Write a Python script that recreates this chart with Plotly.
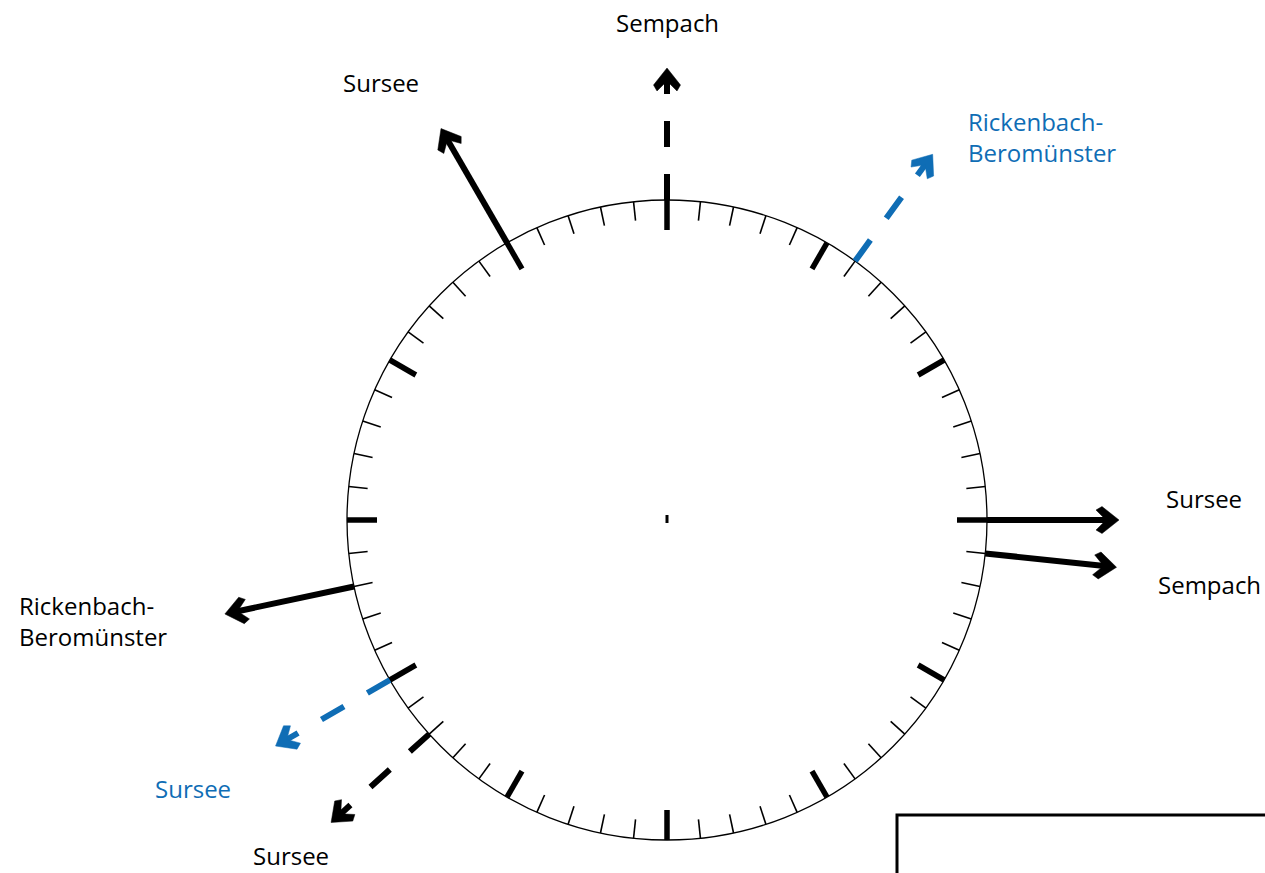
import numpy as np
import plotly.graph_objects as go

# departures: minute on the dial, destination, dashed?, blue?
minutes = [0, 55, 6, 15, 16, 43, 40, 38]
destinations = ["Sempach", "Sursee", "Rickenbach-<br>Beromünster", "Sursee",
                "Sempach", "Rickenbach-<br>Beromünster", "Sursee", "Sursee"]
dashed = [True, False, True, False, False, False, True, True]
blue = [False, False, True, False, False, False, True, False]

# label anchors in page pixels (x, y, xanchor)
label_pos = [(667, 22, "center"), (381, 82, "center"), (966, 137, "left"),
             (1204, 498, "center"), (1209, 584, "center"), (17, 621, "left"),
             (193, 788, "center"), (291, 855, "center")]

W, H = 1265, 873
cx, cy = 667, 520          # dial centre in page pixels
R = 320                    # dial radius
R_TIP = 452                # arrow tip radius
BLUE = "#0f6db5"
FONT = "Open Sans"

# arrow head outline (along, across), tip at origin
HEAD = [(0, 0), (-17, 13.5), (-23, 10), (-13, 0), (-23, -10), (-17, -13.5), (0, 0)]


def polar(minute, r):
    a = np.deg2rad(90 - minute * 6)
    return r * np.cos(a), r * np.sin(a)


def head_xy(minute, r):
    a = np.deg2rad(90 - minute * 6)
    d = np.array([np.cos(a), np.sin(a)])
    n = np.array([-np.sin(a), np.cos(a)])
    tip = r * d
    pts = [tip + u * d + v * n for u, v in HEAD]
    return [p[0] for p in pts], [p[1] for p in pts]


fig = go.Figure()

# dial circle
fig.add_shape(type="circle", x0=-R, y0=-R, x1=R, y1=R,
              line=dict(color="black", width=1.3), layer="below")

# minute ticks
minor_x, minor_y, major_x, major_y = [], [], [], []
for m in range(60):
    if m % 5 == 0:
        x0, y0 = polar(m, R)
        x1, y1 = polar(m, R - 30)
        major_x += [x0, x1, None]
        major_y += [y0, y1, None]
    else:
        x0, y0 = polar(m, R)
        x1, y1 = polar(m, R - 19)
        minor_x += [x0, x1, None]
        minor_y += [y0, y1, None]

fig.add_trace(go.Scatter(x=minor_x, y=minor_y, mode="lines",
                         line=dict(color="black", width=1.6), hoverinfo="skip"))
fig.add_trace(go.Scatter(x=major_x, y=major_y, mode="lines",
                         line=dict(color="black", width=5.5), hoverinfo="skip"))

# centre mark
fig.add_trace(go.Scatter(x=[0, 0], y=[-3, 5], mode="lines",
                         line=dict(color="black", width=3), hoverinfo="skip"))

# arrows
for m, dest, dsh, b, (lx, ly, anc) in zip(minutes, destinations, dashed, blue, label_pos):
    col = BLUE if b else "black"
    sx, sy = polar(m, R)
    if dsh:
        ex, ey = polar(m, 399)
        fig.add_trace(go.Scatter(x=[sx, ex], y=[sy, ey], mode="lines",
                                 line=dict(color=col, width=6, dash="26px,27px"),
                                 hoverinfo="skip"))
        sx, sy = polar(m, R_TIP - 26)
    ex, ey = polar(m, R_TIP - 12)
    fig.add_trace(go.Scatter(x=[sx, ex], y=[sy, ey], mode="lines",
                             line=dict(color=col, width=6), hoverinfo="skip"))
    hx, hy = head_xy(m, R_TIP)
    fig.add_trace(go.Scatter(x=hx, y=hy, mode="lines", fill="toself",
                             fillcolor=col, line=dict(color=col, width=0.5),
                             hoverinfo="skip"))
    fig.add_annotation(x=lx - cx, y=cy - ly, text=dest, showarrow=False,
                       xanchor=anc, yanchor="middle", align="left",
                       font=dict(family=FONT, size=24, color=col))

# box in the bottom-right corner (cut off)
fig.add_shape(type="rect", x0=897 - cx, y0=-(H - cy) - 50, x1=W - cx + 50, y1=cy - 815,
              line=dict(color="black", width=3))

fig.update_layout(
    width=W, height=H,
    margin=dict(l=0, r=0, t=0, b=0),
    plot_bgcolor="white", paper_bgcolor="white",
    showlegend=False,
    xaxis=dict(range=[-cx, W - cx], visible=False, fixedrange=True),
    yaxis=dict(range=[cy - H, cy], visible=False, fixedrange=True),
)

fig.write_html("out.html", config={"displayModeBar": False},
               post_script="document.body.style.margin='0';")
